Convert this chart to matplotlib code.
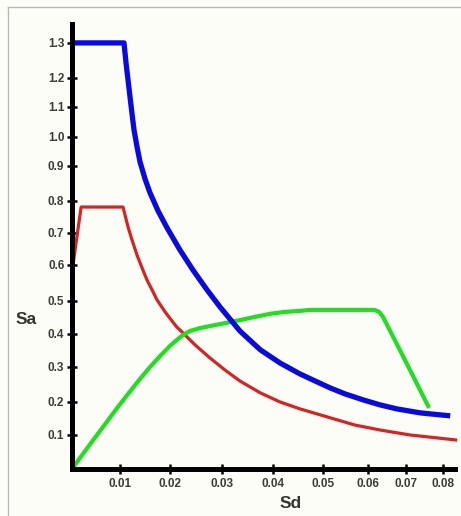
import numpy as np
import matplotlib
matplotlib.use("Agg")
import matplotlib.pyplot as plt
from matplotlib.lines import Line2D

# ---------------- data ----------------
blue_sd = [0.0, 0.0108, 0.0110, 0.0112, 0.0116, 0.0120, 0.0124, 0.0128, 0.0134,
           0.0140, 0.0150, 0.0160, 0.0176, 0.0194, 0.0219, 0.0244, 0.0271,
           0.0296, 0.0335, 0.0375, 0.0414, 0.0454, 0.0484, 0.0516, 0.0549,
           0.0589, 0.0632, 0.0676, 0.0738, 0.0819]
blue_sa = [1.30, 1.30, 1.271, 1.243, 1.193, 1.134, 1.077, 1.023, 0.966,
           0.914, 0.863, 0.823, 0.769, 0.716, 0.647, 0.586, 0.531,
           0.482, 0.409, 0.352, 0.312, 0.280, 0.260, 0.240, 0.223,
           0.206, 0.191, 0.179, 0.167, 0.158]

red_sd = [0.0, 0.0019, 0.0106, 0.0110, 0.0116, 0.0124, 0.0134, 0.0144, 0.0154,
          0.0164, 0.0174, 0.0190, 0.0204, 0.0213, 0.0225, 0.0248, 0.0277,
          0.0306, 0.0335, 0.0375, 0.0414, 0.0454, 0.0516, 0.0571, 0.0632,
          0.0711, 0.0838]
red_sa = [0.581, 0.781, 0.781, 0.756, 0.719, 0.678, 0.631, 0.592, 0.558,
          0.531, 0.503, 0.467, 0.439, 0.421, 0.403, 0.367, 0.327,
          0.291, 0.260, 0.226, 0.200, 0.179, 0.152, 0.130, 0.115,
          0.100, 0.085]

green_sd = [0.0, 0.0021, 0.0044, 0.0069, 0.0094, 0.0116, 0.0140, 0.0160, 0.0180,
            0.0200, 0.0213, 0.0225, 0.0238, 0.0258, 0.0277, 0.0306, 0.0335,
            0.0365, 0.0394, 0.0424, 0.0454, 0.0474, 0.0616, 0.0629, 0.0639,
            0.0700, 0.0762]
green_sa = [0.0, 0.041, 0.085, 0.133, 0.182, 0.223, 0.266, 0.300, 0.333,
            0.364, 0.382, 0.397, 0.409, 0.418, 0.424, 0.433, 0.442,
            0.452, 0.461, 0.467, 0.470, 0.473, 0.473, 0.467, 0.452,
            0.314, 0.182]

x_ticks = [0.01, 0.02, 0.03, 0.04, 0.05, 0.06, 0.07, 0.08]
x_tick_labels = ["0.01", "0.02", "0.03", "0.04", "0.05", "0.06", "0.07", "0.08"]
y_ticks = [0.1, 0.2, 0.3, 0.4, 0.5, 0.6, 0.7, 0.8, 0.9, 1.0, 1.1, 1.2, 1.3]
y_tick_labels = ["0.1", "0.2", "0.3", "0.4", "0.5", "0.6", "0.7", "0.8", "0.9",
                 "1.0", "1.1", "1.2", "1.3"]

# ---------------- hand-drawn axis geometry (scale definition) ----------------
x_scale_vals = [0.0, 0.01, 0.02, 0.03, 0.04, 0.05, 0.06, 0.07, 0.08]
x_scale_pos = [0, 48, 98, 150, 201, 251, 296, 334, 371]
y_scale_vals = [0.0, 0.1, 0.2, 0.3, 0.4, 0.5, 0.6, 0.7, 0.8, 0.9, 1.0, 1.1, 1.2, 1.3]
y_scale_pos = [0, 34, 67, 102, 135, 168, 204, 236, 268, 303, 332, 362, 391, 426]


def piecewise(vals, pos):
    vals = np.asarray(vals, float)
    pos = np.asarray(pos, float)

    def interp(v, a, b):
        v = np.asarray(v, float)
        out = np.interp(v, a, b)
        lo_slope = (b[1] - b[0]) / (a[1] - a[0])
        hi_slope = (b[-1] - b[-2]) / (a[-1] - a[-2])
        out = np.where(v < a[0], b[0] + (v - a[0]) * lo_slope, out)
        out = np.where(v > a[-1], b[-1] + (v - a[-1]) * hi_slope, out)
        return out

    return (lambda v: interp(v, vals, pos)), (lambda p: interp(p, pos, vals))


W, H = 461, 516
fig = plt.figure(figsize=(W / 100, H / 100), dpi=100)
fig.patch.set_facecolor("#fdfdf8")

# frame lines of the original picture
fig.add_artist(Line2D([8 / W, 8 / W], [0, 1 - 7 / H], color="#b8b8b8", lw=1.0))
fig.add_artist(Line2D([8 / W, 1], [1 - 7 / H, 1 - 7 / H], color="#b8b8b8", lw=1.0))

ax = fig.add_axes([72 / W, 47 / H, (455 - 72) / W, (469 - 24) / H])
ax.set_facecolor("none")

fx, ix = piecewise(x_scale_vals, x_scale_pos)
fy, iy = piecewise(y_scale_vals, y_scale_pos)
ax.set_xscale("function", functions=(fx, ix))
ax.set_yscale("function", functions=(fy, iy))
ax.set_xlim(0, 0.0832)
ax.set_ylim(0, 1.354)

ax.plot(red_sd, red_sa, color="#d42424", lw=2.3, solid_capstyle="butt",
        solid_joinstyle="round", clip_on=False, zorder=3)
ax.plot(green_sd, green_sa, color="#22dd22", lw=3.0, solid_capstyle="butt",
        solid_joinstyle="round", clip_on=False, zorder=3)
ax.plot(blue_sd, blue_sa, color="#0a0ae0", lw=3.8, solid_capstyle="butt",
        solid_joinstyle="round", clip_on=False, zorder=4)

for s in ["top", "right"]:
    ax.spines[s].set_visible(False)
for s in ["left", "bottom"]:
    ax.spines[s].set_linewidth(3.6)
    ax.spines[s].set_color("black")
    ax.spines[s].set_zorder(5)

ax.set_xticks(x_ticks)
ax.set_xticklabels(x_tick_labels)
ax.set_yticks(y_ticks)
ax.set_yticklabels(y_tick_labels)
ax.minorticks_off()
ax.tick_params(direction="inout", length=7, width=1.8, color="black",
               labelsize=8.5, labelcolor="#3c3c3c")
ax.tick_params(axis="x", pad=3)
ax.tick_params(axis="y", pad=2)
for lab in ax.get_xticklabels() + ax.get_yticklabels():
    lab.set_fontfamily("Liberation Sans")
    lab.set_fontweight("bold")

fig.text(26 / W, 1 - 320 / H, "Sa", ha="center", va="center", fontsize=12.5,
         fontweight="bold", color="#333333", family="Liberation Sans")
fig.text(291 / W, 1 - 503 / H, "Sd", ha="center", va="center", fontsize=12.5,
         fontweight="bold", color="#333333", family="Liberation Sans")

fig.savefig("out.png", dpi=100, facecolor=fig.get_facecolor())
